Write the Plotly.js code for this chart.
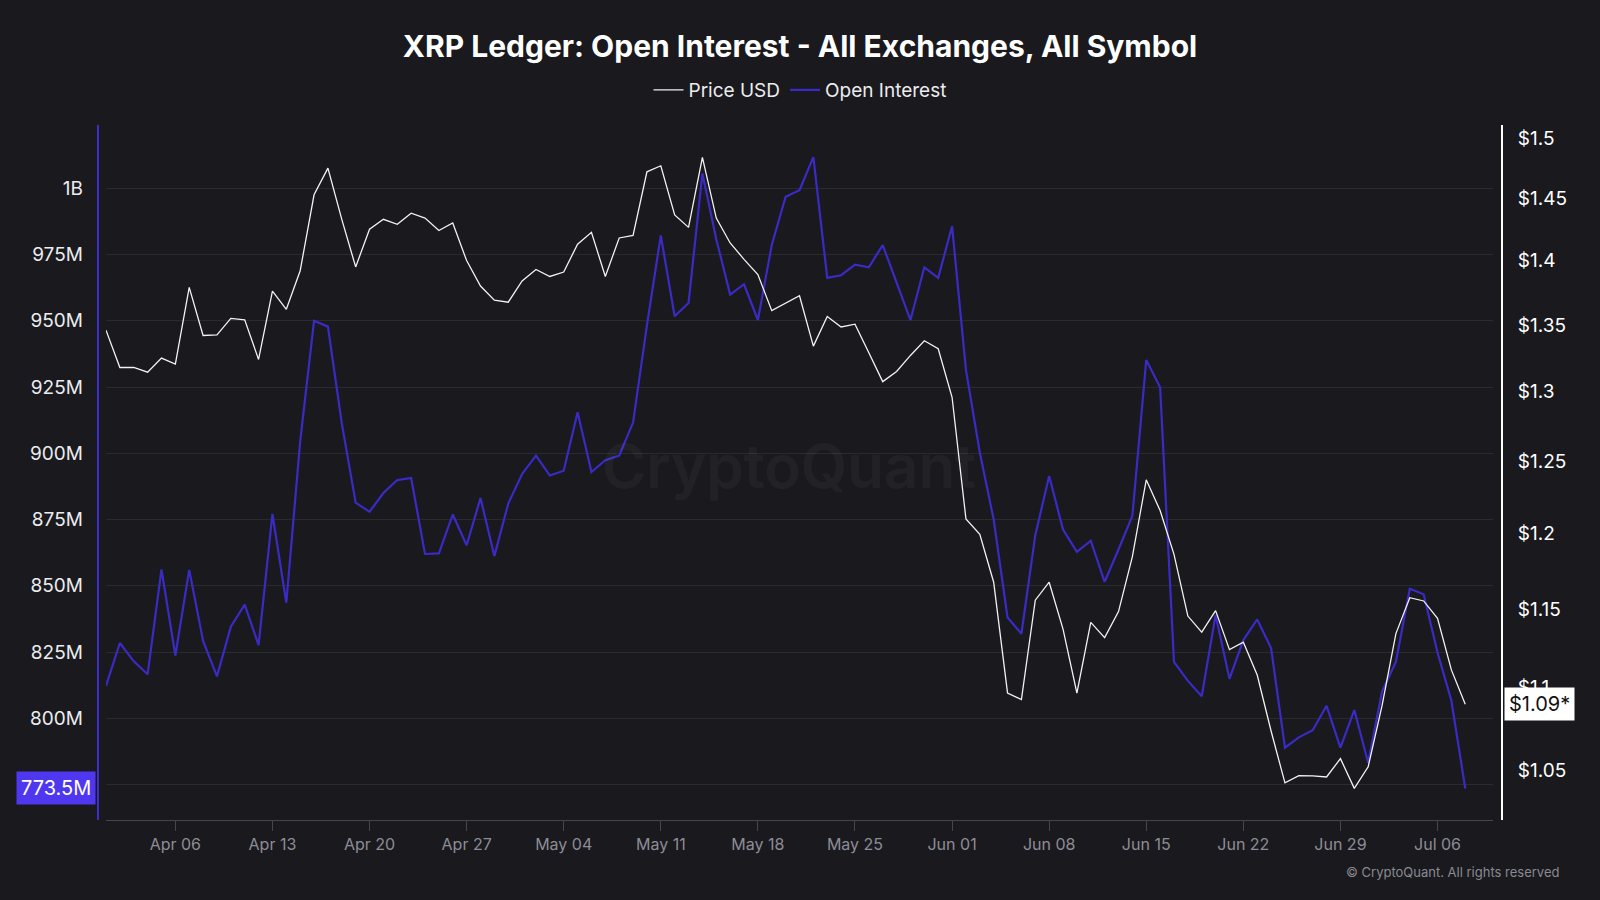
<!DOCTYPE html>
<html>
<head>
<meta charset="utf-8">
<script src="https://cdn.plot.ly/plotly-3.0.1.min.js"></script>
<style>
html, body { margin: 0; padding: 0; background: #19191e; }
#chart { width: 1600px; height: 900px; }
</style>
</head>
<body>
<div id="chart"></div>
<script>
// daily series, first day below, one value per day
var startDate = '2025-04-01';

// open interest, millions of USD
var openInterest = [
  812.2, 828.4, 821.5, 816.6, 856.2, 823.7, 856.0, 829.2, 815.8, 834.6,
  842.9, 827.6, 877.1, 843.6, 904.5, 950.0, 947.8, 911.3, 881.4, 877.9,
  885.0, 889.9, 890.7, 862.0, 862.2, 876.9, 865.3, 883.1, 861.2, 881.0,
  892.2, 899.1, 891.6, 893.4, 915.5, 892.9, 897.4, 899.1, 911.6, 948.3,
  982.2, 951.7, 956.7, 1005.6, 980.8, 959.9, 963.8, 950.3, 978.6, 996.8,
  999.3, 1011.8, 966.2, 967.2, 971.2, 970.2, 978.6, 964.5, 950.3, 970.2,
  966.2, 985.7, 931.5, 900.3, 875.0, 838.0, 831.9, 869.1, 891.4, 871.2,
  862.8, 867.0, 851.5, 863.7, 876.4, 935.2, 924.9, 821.3, 814.1, 808.3,
  839.0, 814.9, 829.5, 837.3, 826.5, 788.9, 792.8, 795.5, 804.7, 788.9,
  803.1, 783.2, 810.1, 821.3, 848.9, 846.8, 824.8, 806.6, 773.5
];

// price USD
var priceUsd = [
  1.346, 1.318, 1.318, 1.3145, 1.325, 1.3205, 1.379, 1.342, 1.3425, 1.355,
  1.354, 1.324, 1.376, 1.362, 1.392, 1.453, 1.475, 1.433, 1.395, 1.425,
  1.433, 1.429, 1.438, 1.434, 1.424, 1.430, 1.400, 1.380, 1.369, 1.3675,
  1.384, 1.393, 1.3875, 1.391, 1.413, 1.4225, 1.3875, 1.418, 1.420, 1.472,
  1.477, 1.4365, 1.4265, 1.484, 1.434, 1.414, 1.401, 1.389, 1.361, 1.367,
  1.3725, 1.334, 1.3565, 1.3485, 1.3506, 1.329, 1.3075, 1.315, 1.327, 1.338,
  1.332, 1.296, 1.210, 1.1995, 1.1675, 1.0966, 1.0926, 1.1557, 1.1675, 1.137,
  1.0966, 1.1413, 1.1315, 1.1483, 1.1845, 1.2370, 1.2157, 1.186, 1.1454, 1.135,
  1.1489, 1.1239, 1.1286, 1.1079, 1.0734, 1.0424, 1.0467, 1.0465, 1.0459, 1.0568,
  1.0392, 1.0519, 1.0889, 1.1341, 1.1573, 1.1552, 1.1439, 1.1111, 1.0897
];

var oiTickVals = [775, 800, 825, 850, 875, 900, 925, 950, 975, 1000];
var oiTickText = ['', '800M', '825M', '850M', '875M', '900M', '925M', '950M', '975M', '1B'];
var priceTickVals = [1.05, 1.1, 1.15, 1.2, 1.25, 1.3, 1.35, 1.4, 1.45, 1.5];
var priceTickText = ['$1.05', '$1.1', '$1.15', '$1.2', '$1.25', '$1.3', '$1.35', '$1.4', '$1.45', '$1.5'];

var dates = [];
var d0 = new Date(startDate + 'T00:00:00Z');
for (var i = 0; i < priceUsd.length; i++) {
  var d = new Date(d0.getTime() + i * 86400000);
  dates.push(d.toISOString().slice(0, 10));
}

// pixel helpers (margin l/r = 0, plot area from y=125 to y=820)
var W = 1600, TOP = 125, BOT = 820;
function px(x) { return x / W; }
function py(y) { return (BOT - y) / (BOT - TOP); }

var lastOi = openInterest[openInterest.length - 1];
var lastPrice = priceUsd[priceUsd.length - 1];

var traces = [
  {
    x: dates, y: priceUsd, name: 'Price USD', type: 'scatter', mode: 'lines',
    yaxis: 'y2', line: { color: '#f2f2f2', width: 1.3 }
  },
  {
    x: dates, y: openInterest, name: 'Open Interest', type: 'scatter', mode: 'lines',
    yaxis: 'y', line: { color: '#3a2bc4', width: 2.2 }
  }
];

var layout = {
  width: 1600,
  height: 900,
  paper_bgcolor: '#19191e',
  plot_bgcolor: '#19191e',
  margin: { l: 0, r: 0, t: TOP, b: 900 - BOT },
  font: { family: 'Inter, "Noto Sans", sans-serif', color: '#ececee' },
  title: {
    text: '<b>XRP Ledger: Open Interest - All Exchanges, All Symbol</b>',
    x: 0.5, xanchor: 'center', y: 1 - 46 / 900, yanchor: 'middle', yref: 'container',
    font: { size: 30, color: '#ffffff' }
  },
  showlegend: true,
  legend: {
    orientation: 'h', x: 0.5, xanchor: 'center', y: py(90), yanchor: 'middle',
    font: { size: 19, color: '#ececee' }, bgcolor: 'rgba(0,0,0,0)'
  },
  xaxis: {
    type: 'date',
    domain: [px(106), px(1493)],
    range: ['2025-04-01', '2025-07-10'],
    tick0: '2025-04-06', dtick: 7 * 86400000, tickformat: '%b %d',
    ticks: 'outside', ticklen: 10, tickcolor: '#45454c',
    showline: true, linecolor: '#45454c', linewidth: 1,
    showgrid: false, zeroline: false,
    tickfont: { size: 16, color: '#8d8d95' }
  },
  yaxis: {
    range: [761.6, 1023.9],
    anchor: 'free', position: px(97.7), side: 'left',
    showline: true, linecolor: '#3b2ecb', linewidth: 2,
    tickvals: oiTickVals, ticktext: oiTickText,
    gridcolor: '#2a2a31', gridwidth: 1, zeroline: false,
    ticks: '', ticklabelstandoff: 10,
    tickfont: { size: 19, color: '#ececee' }
  },
  yaxis2: {
    type: 'log',
    range: [Math.log10(1.0208), Math.log10(1.5114)],
    overlaying: 'y', anchor: 'free', position: px(1502), side: 'right',
    showline: true, linecolor: '#ffffff', linewidth: 2,
    showgrid: false, zeroline: false,
    tickvals: priceTickVals, ticktext: priceTickText,
    ticks: '', ticklabelstandoff: 11,
    tickfont: { size: 19, color: '#ffffff' }
  },
  annotations: [
    {
      text: 'CryptoQuant', xref: 'paper', yref: 'paper', x: px(789), y: py(466),
      xanchor: 'center', yanchor: 'middle', showarrow: false,
      font: { size: 60, color: 'rgba(255,255,255,0.04)', weight: 600 }
    },
    {
      text: '\u00a9 CryptoQuant. All rights reserved', xref: 'paper', yref: 'paper',
      x: px(1561), y: py(872), xanchor: 'right', yanchor: 'middle', showarrow: false,
      font: { size: 13, color: '#8a8a92' }
    },
    {
      text: lastOi.toFixed(1) + 'M', xref: 'paper', yref: 'y',
      x: px(96), y: lastOi, xanchor: 'right', yanchor: 'middle', showarrow: false,
      bgcolor: '#4f37ef', borderpad: 4,
      font: { size: 20, color: '#ffffff' }
    },
    {
      text: '$' + lastPrice.toFixed(2) + '*', xref: 'paper', yref: 'y2',
      x: px(1504), y: Math.log10(lastPrice), xanchor: 'left', yanchor: 'middle', showarrow: false,
      bgcolor: '#ffffff', borderpad: 4,
      font: { size: 20, color: '#111111' }
    }
  ]
};

Plotly.newPlot('chart', traces, layout, { displayModeBar: false, staticPlot: true });
</script>
</body>
</html>
